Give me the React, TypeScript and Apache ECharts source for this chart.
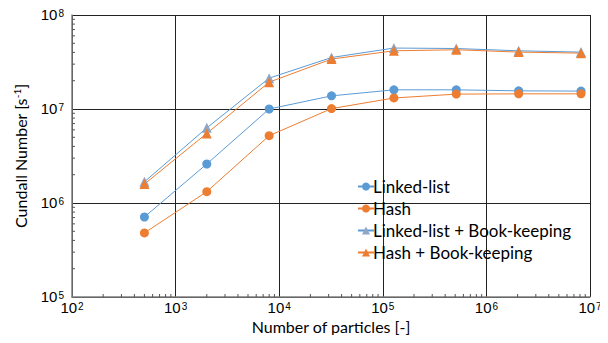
import React, { useEffect, useRef } from "react";
import * as echarts from "echarts";

const particles = [500, 2000, 8000, 32000, 128000, 512000, 2048000, 8192000];
const linkedList = [7.1e5, 2.6e6, 1.0e7, 1.38e7, 1.6e7, 1.6e7, 1.56e7, 1.55e7];
const hash = [4.8e5, 1.32e6, 5.2e6, 1.01e7, 1.31e7, 1.44e7, 1.45e7, 1.45e7];
const linkedListBK = [1.68e6, 6.3e6, 2.13e7, 3.53e7, 4.45e7, 4.4e7, 4.16e7, 4.03e7];
const hashBK = [1.59e6, 5.5e6, 1.93e7, 3.4e7, 4.16e7, 4.27e7, 4.03e7, 3.93e7];
const seriesNames = ["Linked-list", "Hash", "Linked-list + Book-keeping", "Hash + Book-keeping"];
const xMinorTicks = [2, 3, 4, 5, 6, 7, 8, 9].flatMap((m) => [1e2, 1e3, 1e4, 1e5, 1e6].map((d) => m * d));
const yMinorTicks = [2, 3, 4, 5, 6, 7, 8, 9].flatMap((m) => [1e5, 1e6, 1e7].map((d) => m * d));

const BLUE = "#5B9BD5";
const ORANGE = "#ED7D31";
const GREY_BLUE = "#8FA6C4";

const tickFormatter = (v: number) => `{b|10}{s|${Math.round(Math.log10(v))}}`;
const tickRich = {
  b: { fontSize: 15, lineHeight: 14, fontFamily: "Liberation Sans", color: "#000", verticalAlign: "bottom" as const },
  s: { fontSize: 10, lineHeight: 10, fontFamily: "Liberation Sans", color: "#000", verticalAlign: "top" as const, padding: [0, 0, 0, 1] },
};

export default function App() {
  const ref = useRef<HTMLDivElement>(null);
  useEffect(() => {
    if (!ref.current) return;
    const chart = echarts.init(ref.current, null, { renderer: "svg" });
    const mk = (name: string, data: number[], color: string, symbol: string, markerColor: string, size: number) => ({
      name,
      type: "line",
      data: particles.map((x, i) => [x, data[i]]),
      symbol,
      symbolSize: size,
      showAllSymbol: true,
      lineStyle: { color, width: 1 },
      itemStyle: { color: markerColor },
      z: 3,
    });
    chart.setOption({
      animation: false,
      grid: { left: 72, right: 18, top: 15, bottom: 46, outerBoundsMode: "none", containLabel: false },
      legend: {
        orient: "vertical",
        left: 352,
        top: 173,
        itemGap: 5,
        itemWidth: 16,
        itemHeight: 10,
        data: seriesNames,
        textStyle: { fontFamily: "Lato", fontSize: 17, color: "#000", padding: [0, 0, 0, -6] },
      },
      xAxis: {
        type: "log",
        logBase: 10,
        min: 1e2,
        max: 1e7,
        name: "Number of particles [-]",
        nameLocation: "middle",
        nameGap: 21,
        nameMoveOverlap: false,
        nameTextStyle: { fontFamily: "Lato", fontSize: 16, color: "#000" },
        axisLine: { show: true, lineStyle: { color: "#7f7f7f", width: 1.5 } },
        axisTick: { show: false },
        splitLine: { show: true, lineStyle: { color: "#222", width: 1 } },
        minorTick: { show: false },
        axisLabel: { formatter: tickFormatter, rich: tickRich, margin: 4 },
      },
      yAxis: {
        type: "log",
        logBase: 10,
        min: 1e5,
        max: 1e8,
        name: "{n|Cundall Number [s}{s|-1}{n|]}",
        nameLocation: "middle",
        nameGap: 44,
        nameMoveOverlap: false,
        nameRotate: 90,
        nameTextStyle: {
          rich: {
            n: { fontFamily: "Lato", fontSize: 16, color: "#000", verticalAlign: "bottom" },
            s: { fontFamily: "Lato", fontSize: 10, color: "#000", verticalAlign: "top", padding: [0, 0, 4, 0] },
          },
        },
        axisLine: { show: true, lineStyle: { color: "#7f7f7f", width: 1.5 } },
        axisTick: { show: false },
        splitLine: { show: true, lineStyle: { color: "#222", width: 1 } },
        axisLabel: { formatter: tickFormatter, rich: tickRich, margin: 8 },
      },
      series: [
        {
          type: "custom",
          silent: true,
          data: xMinorTicks.map((v) => [v, 1e5]),
          renderItem: (params: any, api: any) => {
            const p = api.coord([api.value(0), api.value(1)]);
            return { type: "line", shape: { x1: p[0], y1: p[1], x2: p[0], y2: p[1] - 3 }, style: { stroke: "#555", lineWidth: 1 } };
          },
          z: 1,
        },
        {
          type: "custom",
          silent: true,
          data: yMinorTicks.map((v) => [1e2, v]),
          renderItem: (params: any, api: any) => {
            const p = api.coord([api.value(0), api.value(1)]);
            return { type: "line", shape: { x1: p[0], y1: p[1], x2: p[0] + 3, y2: p[1] }, style: { stroke: "#555", lineWidth: 1 } };
          },
          z: 1,
        },
        mk(seriesNames[0], linkedList, BLUE, "circle", BLUE, 9),
        mk(seriesNames[1], hash, ORANGE, "circle", ORANGE, 9),
        mk(seriesNames[2], linkedListBK, BLUE, "triangle", GREY_BLUE, 10),
        mk(seriesNames[3], hashBK, ORANGE, "triangle", ORANGE, 10),
      ],
    });
    return () => chart.dispose();
  }, []);
  return <div ref={ref} style={{ width: 608, height: 343, margin: -8 }} />;
}
